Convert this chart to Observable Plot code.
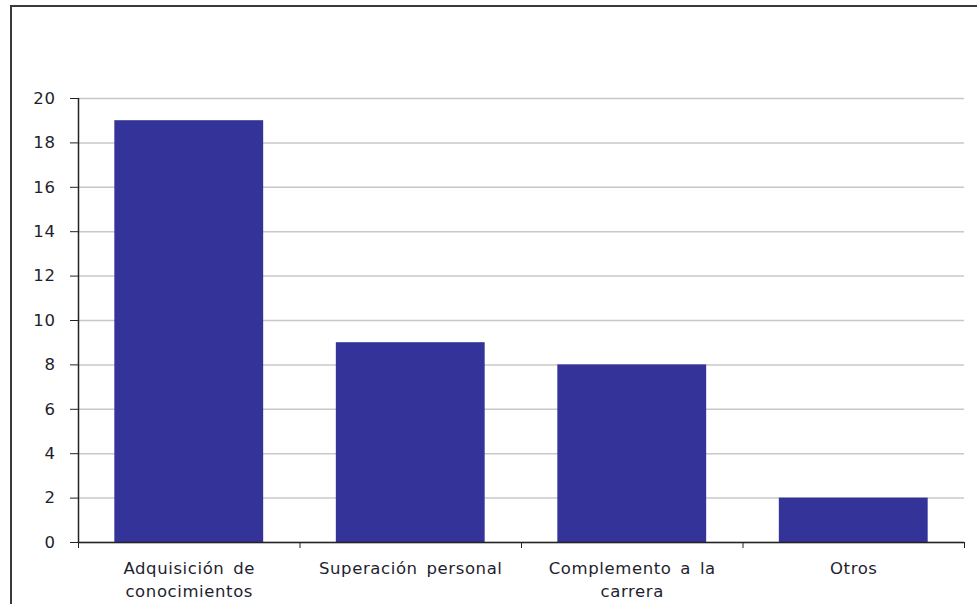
<!DOCTYPE html>
<html>
<head>
<meta charset="utf-8">
<script src="https://cdn.jsdelivr.net/npm/d3@7"></script>
<script src="https://cdn.jsdelivr.net/npm/@observablehq/plot@0.6"></script>
<style>
  html, body { margin: 0; padding: 0; background: #fff; overflow: hidden; }
  #frame { position: absolute; left: 10px; top: 5px; width: 1000px; height: 700px;
           border-left: 2px solid #3a3a3a; border-top: 2px solid #3a3a3a; }
  #chart { position: absolute; left: 0; top: 0; }
</style>
</head>
<body>
<div id="frame"></div>
<div id="chart"></div>
<script>
const categories = ["Adquisición de\nconocimientos", "Superación personal", "Complemento a la\ncarrera", "Otros"];
const values = [19, 9, 8, 2];
const yTicks = [0, 2, 4, 6, 8, 10, 12, 14, 16, 18, 20];

const data = categories.map((c, i) => ({i, category: c, value: values[i]}));
const half = 0.336;

const chart = Plot.plot({
  width: 977,
  height: 604,
  marginLeft: 78,
  marginRight: 13,
  marginTop: 98,
  marginBottom: 62,
  style: {fontFamily: "'DejaVu Sans', Verdana, sans-serif", fontSize: "16.5px", color: "#1e1e2e", background: "transparent", letterSpacing: "0.6px", wordSpacing: "3px"},
  x: {type: "linear", domain: [-0.5, categories.length - 0.5]},
  y: {domain: [0, 20]},
  marks: [
    Plot.gridY(yTicks, {stroke: "#c8c8c8", strokeOpacity: 1, strokeWidth: 1.5}),
    Plot.rectY(data, {x1: d => d.i - half, x2: d => d.i + half, y: "value", fill: "#333399"}),
    Plot.axisY({ticks: yTicks, tickSize: 8, tickPadding: 15, stroke: "#222", fontSize: 16.5, label: null}),
    Plot.ruleX([-0.5], {stroke: "#222", strokeWidth: 1.5}),
    Plot.ruleY([0], {stroke: "#222", strokeWidth: 1.5}),
    Plot.axisX({ticks: d3.range(-0.5, categories.length), tickFormat: () => "", tickSize: 6, stroke: "#222", label: null}),
    Plot.axisX({ticks: d3.range(categories.length), tickFormat: i => categories[i], tickSize: 0, tickPadding: 16, lineHeight: 1.35, fontSize: 16.5, label: null})
  ]
});
document.getElementById("chart").appendChild(chart);
</script>
</body>
</html>
